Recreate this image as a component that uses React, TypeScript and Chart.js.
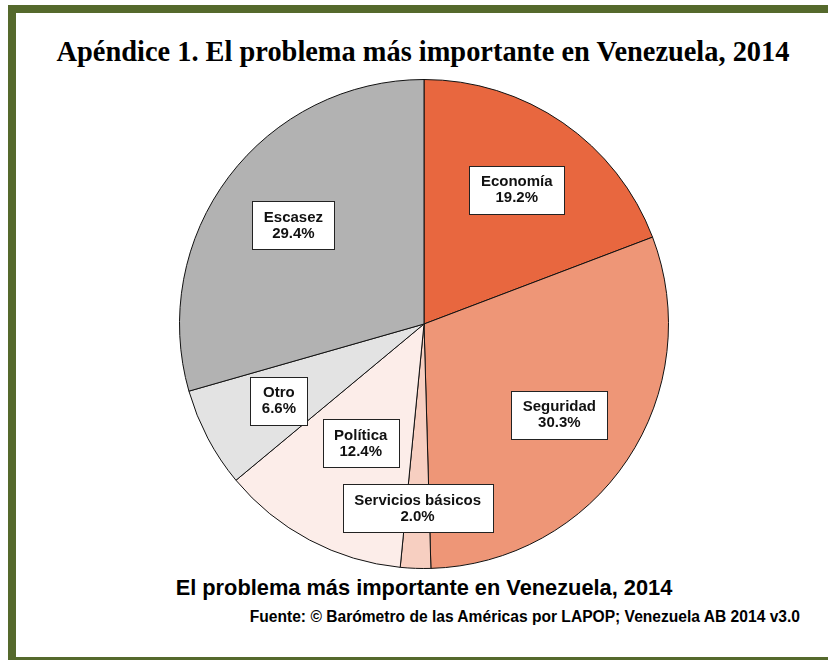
import React, { useEffect, useRef } from "react";
import { Chart, registerables } from "chart.js";

Chart.register(...registerables);

const categories = ["Economía", "Seguridad", "Servicios básicos", "Política", "Otro", "Escasez"];
const values = [19.2, 30.3, 2.0, 12.4, 6.6, 29.4];
const sliceColors = ["#E8673F", "#EE9677", "#F7CFC1", "#FCEDE9", "#E3E3E3", "#B2B2B2"];
const labelRadius = [0.668, 0.666, 0.755, 0.552, 0.671, 0.669];

const titleText = "Apéndice 1. El problema más importante en Venezuela, 2014";
const captionText = "El problema más importante en Venezuela, 2014";
const sourceText = "Fuente: © Barómetro de las Américas por LAPOP; Venezuela AB 2014 v3.0";

const boxLabels = {
  id: "boxLabels",
  afterDatasetsDraw(chart: any) {
    const ctx = chart.ctx;
    const meta = chart.getDatasetMeta(0);
    ctx.save();
    ctx.font = "bold 15px 'Liberation Sans', Arial, sans-serif";
    ctx.textAlign = "center";
    ctx.textBaseline = "middle";
    meta.data.forEach((arc: any, i: number) => {
      const mid = (arc.startAngle + arc.endAngle) / 2;
      const r = arc.outerRadius * labelRadius[i];
      const cx = arc.x + Math.cos(mid) * r;
      const cy = arc.y + Math.sin(mid) * r;
      const l1 = categories[i];
      const l2 = values[i].toFixed(1) + "%";
      const w = Math.max(ctx.measureText(l1).width, ctx.measureText(l2).width) + 23;
      const h = 48;
      const x0 = Math.round(cx - w / 2) + 0.5;
      const y0 = Math.round(cy - h / 2) + 0.5;
      ctx.fillStyle = "#ffffff";
      ctx.fillRect(x0, y0, Math.round(w), h);
      ctx.strokeStyle = "#222222";
      ctx.lineWidth = 1;
      ctx.strokeRect(x0, y0, Math.round(w), h);
      ctx.fillStyle = "#111111";
      ctx.fillText(l1, cx, cy - 7.5);
      ctx.fillText(l2, cx, cy + 8.5);
    });
    ctx.restore();
  },
};

export default function App() {
  const ref = useRef<HTMLCanvasElement>(null);
  useEffect(() => {
    if (!ref.current) return;
    const chart = new Chart(ref.current, {
      type: "pie",
      data: {
        labels: categories,
        datasets: [
          {
            data: values,
            backgroundColor: sliceColors,
            borderColor: "#111111",
            borderWidth: 1,
          },
        ],
      },
      options: {
        responsive: false,
        animation: false,
        devicePixelRatio: 1,
        layout: { padding: 5 },
        plugins: {
          legend: { display: false },
          tooltip: { enabled: false },
          title: { display: false },
        },
      },
      plugins: [boxLabels],
    });
    return () => chart.destroy();
  }, []);

  return (
    <div
      style={{
        position: "absolute",
        left: 0,
        top: 0,
        width: 828,
        height: 660,
        overflow: "hidden",
        background: "#ffffff",
      }}
    >
      <div
        style={{
          position: "absolute",
          left: 8,
          top: 5,
          width: 840,
          height: 660,
          boxSizing: "border-box",
          border: "8px solid #55692C",
        }}
      />
      <div
        style={{
          position: "absolute",
          left: 0,
          top: 38,
          width: 846,
          textAlign: "center",
          fontFamily: "'Liberation Serif', 'DejaVu Serif', serif",
          fontWeight: "bold",
          fontSize: 28.4,
          lineHeight: "28px",
          color: "#000",
          whiteSpace: "nowrap",
        }}
      >
        {titleText}
      </div>
      <canvas
        ref={ref}
        width={500}
        height={500}
        style={{ position: "absolute", left: 174, top: 74, width: 500, height: 500 }}
      />
      <div
        style={{
          position: "absolute",
          left: 0,
          top: 577,
          width: 848,
          textAlign: "center",
          fontFamily: "'Liberation Sans', Arial, sans-serif",
          fontWeight: "bold",
          fontSize: 21.8,
          lineHeight: "22px",
          color: "#000",
          whiteSpace: "nowrap",
        }}
      >
        {captionText}
      </div>
      <div
        style={{
          position: "absolute",
          right: 28,
          top: 609,
          textAlign: "right",
          fontFamily: "'Liberation Sans', Arial, sans-serif",
          fontWeight: "bold",
          fontSize: 15.6,
          lineHeight: "16px",
          color: "#000",
          whiteSpace: "nowrap",
        }}
      >
        {sourceText}
      </div>
    </div>
  );
}
